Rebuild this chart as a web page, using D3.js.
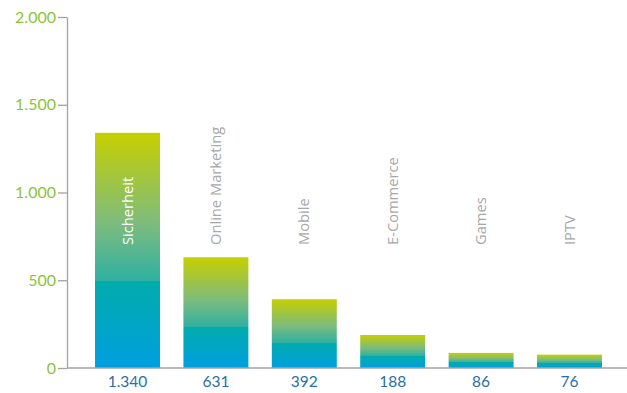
<!DOCTYPE html>
<html>
<head>
<meta charset="utf-8">
<script src="https://cdn.jsdelivr.net/npm/d3@7"></script>
<style>
  html, body { margin: 0; padding: 0; background: #fff; }
  svg { display: block; font-family: Lato, "Open Sans", sans-serif; }
</style>
</head>
<body>
<svg id="chart" width="627" height="393"></svg>
<script>
// Segments and their counts
const categories = ["Sicherheit", "Online Marketing", "Mobile", "E-Commerce", "Games", "IPTV"];
const values = [1340, 631, 392, 188, 86, 76];
const valueLabels = ["1.340", "631", "392", "188", "86", "76"];
const yTicks = [0, 500, 1000, 1500, 2000];
const yTickLabels = ["0", "500", "1.000", "1.500", "2.000"];

const svg = d3.select("#chart");
const W = 627, H = 393;
const x0 = 67, yBase = 368, yTop = 17;

const x = d3.scaleBand()
  .domain(categories)
  .range([83.3, 613.7])
  .paddingInner(0.265)
  .paddingOuter(0.1325);

const y = d3.scaleLinear().domain([0, 2000]).range([yBase, yTop]);

// Vertical gradient, blue at the base rising to yellow-green
const defs = svg.append("defs");
const grad = defs.append("linearGradient")
  .attr("id", "barGrad")
  .attr("x1", 0).attr("y1", 1).attr("x2", 0).attr("y2", 0);
[
  [0, "#009fe0"],
  [0.37, "#00acab"],
  [0.37, "#2fb0a3"],
  [0.62, "#7fbc7c"],
  [1, "#c6cf00"]
].forEach(([o, c]) => grad.append("stop").attr("offset", o).attr("stop-color", c));

// Bars
svg.append("g").selectAll("rect")
  .data(categories)
  .join("rect")
  .attr("x", d => x(d))
  .attr("width", x.bandwidth())
  .attr("y", (d, i) => y(values[i]))
  .attr("height", (d, i) => yBase - y(values[i]))
  .attr("fill", "url(#barGrad)");

// Y axis
const yAxis = svg.append("g")
  .attr("transform", `translate(${x0},0)`)
  .call(d3.axisLeft(y)
    .tickValues(yTicks)
    .tickFormat((d, i) => yTickLabels[i])
    .tickSizeInner(9)
    .tickSizeOuter(0)
    .tickPadding(2));
yAxis.select(".domain").attr("stroke", "#a3a3a3").attr("stroke-width", 1.3);
yAxis.selectAll(".tick line").attr("stroke", "#a3a3a3").attr("stroke-width", 1.3);
yAxis.selectAll(".tick text")
  .attr("fill", "#8cc43c")
  .attr("font-size", 16)
  .attr("font-family", "Lato, 'Open Sans', sans-serif");

// X baseline
svg.append("line")
  .attr("x1", x0).attr("x2", W)
  .attr("y1", yBase).attr("y2", yBase)
  .attr("stroke", "#a3a3a3").attr("stroke-width", 1.3);

// Value labels under each bar
svg.append("g").selectAll("text")
  .data(categories)
  .join("text")
  .attr("x", d => x(d) + x.bandwidth() / 2)
  .attr("y", 387)
  .attr("text-anchor", "middle")
  .attr("fill", "#2b6fa6")
  .attr("font-size", 15.5)
  .text((d, i) => valueLabels[i]);

// Rotated category names
svg.append("g").selectAll("text")
  .data(categories)
  .join("text")
  .attr("transform", d => `translate(${x(d) + x.bandwidth() / 2 + 5},245) rotate(-90)`)
  .attr("text-anchor", "start")
  .attr("fill", (d, i) => i === 0 ? "#ffffff" : "#a8a8a8")
  .attr("font-family", "'Open Sans', sans-serif")
  .attr("font-size", 14.7)
  .text(d => d);
</script>
</body>
</html>
